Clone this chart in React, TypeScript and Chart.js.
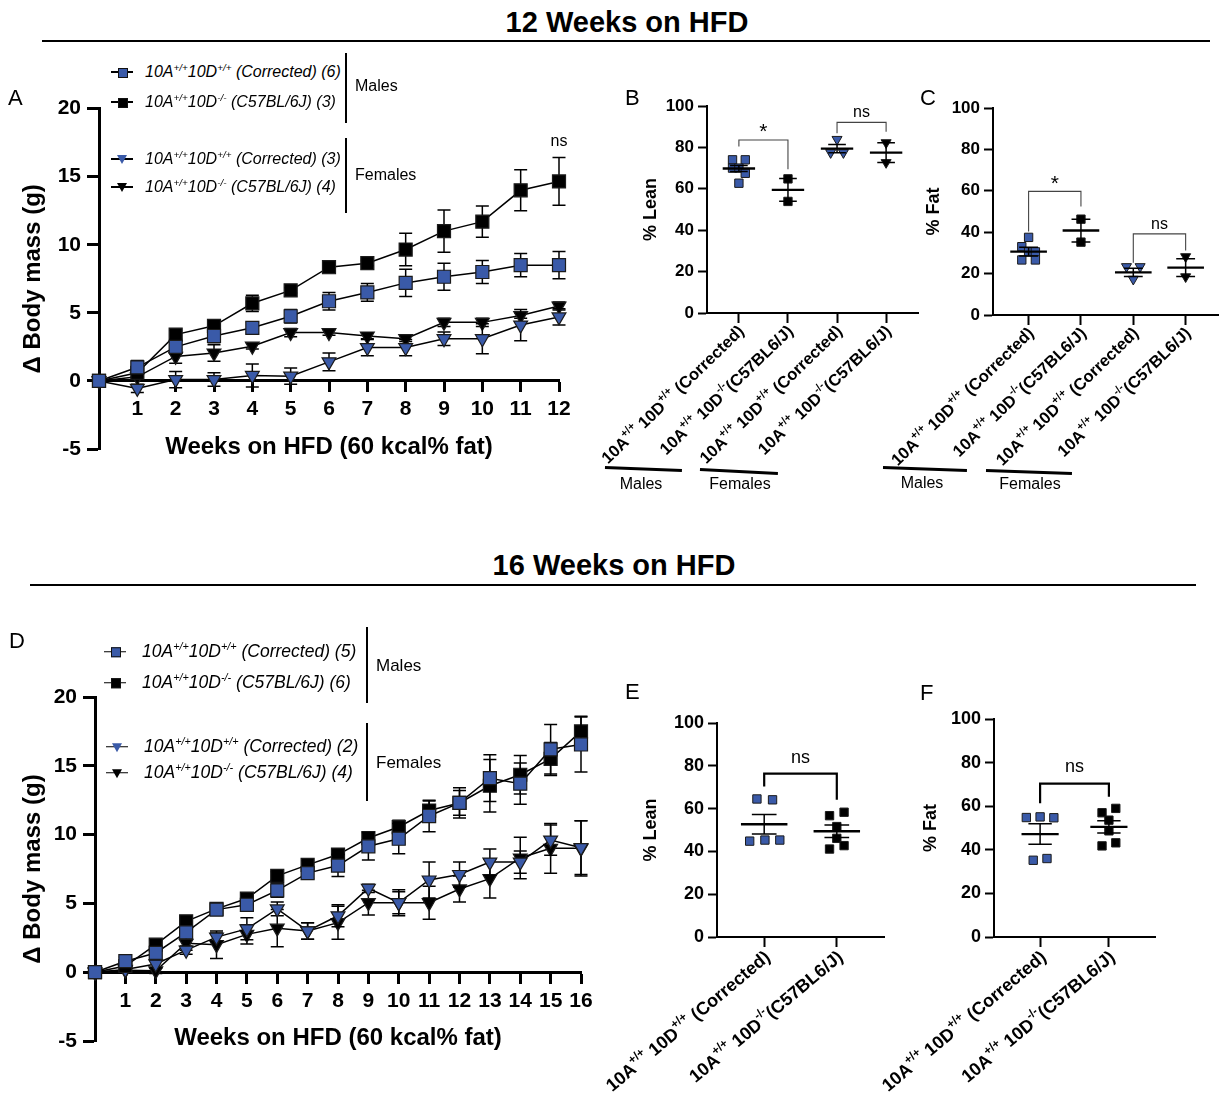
import React, { useEffect, useRef } from 'react';
import { Chart, registerables } from 'chart.js';

Chart.register(...registerables);

const FONT = "'Liberation Sans', Arial, Helvetica, sans-serif";
Chart.defaults.font.family = FONT;
Chart.defaults.color = '#000';

const BLUE = '#3a5aa8';
const EDGE = '#1b1b1b';

// ---------------- Panel A (12 weeks) ----------------
const weeksA = [0, 1, 2, 3, 4, 5, 6, 7, 8, 9, 10, 11, 12];
const aMaleCorr = [0, 1.0, 2.5, 3.3, 3.9, 4.75, 5.85, 6.5, 7.2, 7.65, 8.0, 8.5, 8.5];
const aMaleCorrErr = [0, 0.5, 0.5, 0.5, 0.4, 0.5, 0.65, 0.65, 1.0, 1.0, 0.85, 0.85, 1.0];
const aMaleC57 = [0, 0.6, 3.4, 4.05, 5.7, 6.65, 8.35, 8.65, 9.65, 11.0, 11.7, 14.0, 14.65];
const aMaleC57Err = [0, 0.3, 0.3, 0.4, 0.6, 0.2, 0.2, 0.2, 1.2, 1.55, 1.15, 1.5, 1.75];
const aFemCorr = [0, -0.55, 0.1, 0.1, 0.4, 0.35, 1.4, 2.45, 2.45, 3.1, 3.1, 4.1, 4.7];
const aFemCorrErr = [0, 0.3, 0.6, 0.5, 0.85, 0.6, 0.65, 0.6, 0.6, 0.5, 1.1, 1.15, 0.6];
const aFemC57 = [0, 0.3, 1.8, 2.05, 2.55, 3.55, 3.55, 3.3, 3.1, 4.3, 4.3, 4.8, 5.5];
const aFemC57Err = [0, 0.3, 0.5, 0.6, 0.2, 0.3, 0.2, 0.2, 0.2, 0.3, 0.3, 0.2, 0.3];
const aNs = { x: 12, y: 17.6, text: 'ns' };

// ---------------- Panel D (16 weeks) ----------------
const weeksD = [0, 1, 2, 3, 4, 5, 6, 7, 8, 9, 10, 11, 12, 13, 14, 15, 16];
const dMaleCorr = [0, 0.8, 1.4, 2.9, 4.55, 4.9, 5.95, 7.2, 7.75, 9.15, 9.7, 11.35, 12.3, 14.1, 13.7, 16.2, 16.55];
const dMaleCorrErr = [0, 0.3, 0.5, 0.4, 0.3, 0.3, 0.5, 0.4, 0.8, 1.0, 1.1, 1.15, 0.9, 1.7, 1.5, 1.8, 2.0];
const dMaleC57 = [0, 0.45, 2.0, 3.7, 4.6, 5.35, 7.0, 7.8, 8.55, 9.75, 10.55, 11.75, 12.3, 13.55, 14.35, 15.5, 17.5];
const dMaleC57Err = [0, 0.2, 0.3, 0.3, 0.2, 0.3, 0.3, 0.3, 0.4, 0.4, 0.5, 0.7, 1.1, 1.9, 1.4, 1.2, 1.1];
const dFemCorr = [0, 0.2, 0.6, 1.6, 2.55, 3.15, 4.6, 3.0, 4.1, 6.1, 5.05, 6.7, 7.1, 8.0, 8.0, 9.6, 9.05];
const dFemCorrErr = [0, 0.2, 0.3, 0.3, 0.3, 0.8, 0.5, 0.6, 0.8, 0.3, 0.8, 1.3, 0.9, 0.95, 0.8, 1.1, 1.95];
const dFemC57 = [0, 0.15, 0.1, 2.1, 2.0, 2.75, 3.2, 3.0, 3.6, 5.05, 5.05, 5.05, 6.05, 6.8, 8.3, 9.0, 9.0];
const dFemC57Err = [0, 0.1, 0.2, 0.5, 1.0, 0.7, 1.35, 0.6, 1.2, 0.9, 0.95, 1.2, 0.95, 1.4, 1.5, 1.8, 2.0];

// ---------------- Category labels ('^' toggles superscript) ----------------
const labels4 = [
  '10A^+/+^ 10D^+/+^ (Corrected)',
  '10A^+/+^ 10D^-/-^(C57BL6/J)',
  '10A^+/+^ 10D^+/+^ (Corrected)',
  '10A^+/+^ 10D^-/-^(C57BL6/J)',
];
const labels2 = ['10A^+/+^ 10D^+/+^ (Corrected)', '10A^+/+^ 10D^-/-^(C57BL6/J)'];

// ---------------- Panel B (% Lean, 12 weeks) ----------------
const bVals = [[74, 74, 70, 70, 67.5, 62.7], [64.8, 53.9], [83.9, 77.5, 77.5], [82.3, 72.7]];
const bJit = [[-0.13, 0.13, -0.13, 0, 0.13, 0], [0, 0], [0, -0.13, 0.13], [0, 0]];
const bMean = [69.8, 59.5, 79.4, 77.5];
const bSem = [1.5, 5.5, 2.0, 4.8];
const bBrackets = [
  { a: 0, b: 1, top: 83.6, la: 80.4, lb: 69.5, text: '*', ty: 87.2 },
  { a: 2, b: 3, top: 92.1, la: 86.8, lb: 87.6, text: 'ns', ty: 96.8 },
];

// ---------------- Panel C (% Fat, 12 weeks) ----------------
const cVals = [[37.5, 33, 30.5, 30.5, 26.6, 26.6], [46.3, 35.2], [23.4, 23.4, 17.3], [28.2, 18.5]];
const cJit = [[0, -0.13, 0, 0.13, -0.13, 0.13], [0, 0], [-0.13, 0.13, 0], [0, 0]];
const cMean = [30.6, 40.8, 20.6, 22.9];
const cSem = [2.1, 5.5, 1.95, 4.3];
const cBrackets = [
  { a: 0, b: 1, top: 59.7, la: 40.3, lb: 52.4, text: '*', ty: 63.2 },
  { a: 2, b: 3, top: 39.2, la: 25.3, lb: 31.1, text: 'ns', ty: 43.9 },
];

// ---------------- Panel E (% Lean, 16 weeks) ----------------
const eVals = [[64.5, 64.1, 44.8, 45.3, 45.3], [56.7, 58.3, 51.6, 46.1, 41.1, 42.7]];
const eJit = [[-0.1, 0.115, -0.2, 0.01, 0.215], [-0.1, 0.1, 0, 0, -0.1, 0.1]];
const eMean = [52.7, 49.4];
const eSem = [4.6, 2.9];
const eBrackets = [{ a: 0, b: 1, top: 76.3, la: 70.3, lb: 64.1, text: 'ns', ty: 83.6 }];

// ---------------- Panel F (% Fat, 16 weeks) ----------------
const fVals = [[54.8, 55.1, 54.7, 35.2, 36.0], [57.0, 59.0, 53.6, 48.7, 41.8, 43.2]];
const fJit = [[-0.2, 0, 0.2, -0.1, 0.1], [-0.1, 0.1, 0, 0, -0.1, 0.1]];
const fMean = [47.2, 50.5];
const fSem = [4.7, 2.8];
const fBrackets = [{ a: 0, b: 1, top: 70.4, la: 61.3, lb: 64.3, text: 'ns', ty: 78.1 }];

// ---------------- helpers ----------------
function drawRich(ctx: CanvasRenderingContext2D, text: string, x: number, y: number, angleDeg: number, size: number) {
  const segs = text.split('^').map((t, i) => ({ t, sup: i % 2 === 1 }));
  const base = `bold ${size}px ${FONT}`;
  const supF = `bold ${Math.round(size * 0.64)}px ${FONT}`;
  let total = 0;
  const widths = segs.map((sg) => {
    ctx.font = sg.sup ? supF : base;
    const w = ctx.measureText(sg.t).width;
    total += w;
    return w;
  });
  ctx.save();
  ctx.translate(x, y);
  ctx.rotate((-angleDeg * Math.PI) / 180);
  ctx.textBaseline = 'middle';
  ctx.textAlign = 'left';
  ctx.fillStyle = '#000';
  let cx = -total;
  segs.forEach((sg, i) => {
    ctx.font = sg.sup ? supF : base;
    ctx.fillText(sg.t, cx, sg.sup ? -size * 0.38 : 0);
    cx += widths[i];
  });
  ctx.restore();
}

type Series = { data: number[]; err: number[]; color: string; shape: 'rect' | 'triangle' };

function makeLineChart(weeks: number[], series: Series[], xMax: number, pad: any, yWidth: number, ns: any) {
  const errPlugin = {
    id: 'errbars',
    beforeDatasetDraw(chart: any, args: any) {
      const s = series[args.index];
      const ctx = chart.ctx;
      const xs = chart.scales.x;
      const ys = chart.scales.y;
      ctx.save();
      ctx.strokeStyle = '#000';
      ctx.lineWidth = 1.5;
      weeks.forEach((w, i) => {
        const e = s.err[i];
        if (!e) return;
        const px = xs.getPixelForValue(w);
        const y1 = ys.getPixelForValue(s.data[i] + e);
        const y2 = ys.getPixelForValue(s.data[i] - e);
        ctx.beginPath();
        ctx.moveTo(px, y1);
        ctx.lineTo(px, y2);
        ctx.moveTo(px - 6.5, y1);
        ctx.lineTo(px + 6.5, y1);
        ctx.moveTo(px - 6.5, y2);
        ctx.lineTo(px + 6.5, y2);
        ctx.stroke();
      });
      ctx.restore();
    },
    afterDraw(chart: any) {
      if (!ns) return;
      const ctx = chart.ctx;
      ctx.save();
      ctx.font = `16px ${FONT}`;
      ctx.fillStyle = '#000';
      ctx.textAlign = 'center';
      ctx.textBaseline = 'middle';
      ctx.fillText(ns.text, chart.scales.x.getPixelForValue(ns.x), chart.scales.y.getPixelForValue(ns.y));
      ctx.restore();
    },
  };
  return {
    type: 'line',
    data: {
      datasets: series.map((s) => ({
        data: weeks.map((w, i) => ({ x: w, y: s.data[i] })),
        borderColor: '#000',
        borderWidth: 1.5,
        pointStyle: s.shape,
        pointRotation: s.shape === 'triangle' ? 180 : 0,
        pointRadius: s.shape === 'rect' ? 9.2 : 8,
        pointBackgroundColor: s.color,
        pointBorderColor: EDGE,
        pointBorderWidth: 1.2,
        clip: false,
        tension: 0,
      })),
    },
    options: {
      responsive: false,
      animation: false,
      events: [],
      layout: { padding: pad },
      plugins: { legend: { display: false }, tooltip: { enabled: false } },
      scales: {
        x: {
          type: 'linear',
          position: { y: 0 },
          min: 0,
          max: xMax,
          afterBuildTicks: (s: any) => {
            s.ticks = weeks.map((v) => ({ value: v }));
          },
          ticks: {
            callback: (v: any) => (v === 0 ? '' : String(v)),
            font: { size: 21, weight: 'bold' },
            color: '#000',
            padding: 6,
            maxRotation: 0,
            autoSkip: false,
          },
          grid: { drawOnChartArea: false, drawTicks: true, tickLength: 10, tickWidth: 3, tickColor: '#000' },
          border: { display: true, width: 3, color: '#000' },
          title: {
            display: true,
            text: 'Weeks on HFD (60 kcal% fat)',
            font: { size: 24, weight: 'bold' },
            color: '#000',
            padding: { top: 5, bottom: 0 },
          },
        },
        y: {
          min: -5,
          max: 20,
          afterFit: (s: any) => {
            s.width = yWidth;
          },
          ticks: { stepSize: 5, font: { size: 21, weight: 'bold' }, color: '#000', padding: 6 },
          grid: { drawOnChartArea: false, drawTicks: true, tickLength: 12, tickWidth: 3, tickColor: '#000' },
          border: { display: true, width: 3, color: '#000' },
          title: {
            display: true,
            text: '\u0394 Body mass (g)',
            font: { size: 24, weight: 'bold' },
            color: '#000',
            padding: { top: 19, bottom: 0 },
          },
        },
      },
    },
    plugins: [errPlugin],
  };
}

type DotOpts = {
  vals: number[][];
  jit: number[][];
  mean: number[];
  sem: number[];
  colors: string[];
  shapes: ('rect' | 'triangle')[];
  labels: string[];
  yTitle: string;
  xMin: number;
  xMax: number;
  pad: any;
  yWidth: number;
  xHeight: number;
  yTitlePad: number;
  meanHalf: number;
  capHalf: number;
  brackets: any[];
  bracketColor: string;
  bracketWidth: number;
  sigSize: number;
  starSize: number;
  labelAngle: number;
  labelSize: number;
  labelDx: number;
  labelDy: number;
  tickSize: number;
  titleSize: number;
};

function makeDotChart(o: DotOpts) {
  const statPlugin = {
    id: 'dotstats',
    afterDatasetsDraw(chart: any) {
      const ctx = chart.ctx;
      const xs = chart.scales.x;
      const ys = chart.scales.y;
      ctx.save();
      ctx.strokeStyle = '#000';
      o.mean.forEach((m, g) => {
        const x0 = xs.getPixelForValue(g - o.meanHalf);
        const x1 = xs.getPixelForValue(g + o.meanHalf);
        const cx = xs.getPixelForValue(g);
        const c0 = xs.getPixelForValue(g - o.capHalf);
        const c1 = xs.getPixelForValue(g + o.capHalf);
        const ym = ys.getPixelForValue(m);
        const yt = ys.getPixelForValue(m + o.sem[g]);
        const yb = ys.getPixelForValue(m - o.sem[g]);
        ctx.lineWidth = 2.4;
        ctx.beginPath();
        ctx.moveTo(x0, ym);
        ctx.lineTo(x1, ym);
        ctx.stroke();
        ctx.lineWidth = 1.5;
        ctx.beginPath();
        ctx.moveTo(cx, yt);
        ctx.lineTo(cx, yb);
        ctx.moveTo(c0, yt);
        ctx.lineTo(c1, yt);
        ctx.moveTo(c0, yb);
        ctx.lineTo(c1, yb);
        ctx.stroke();
      });
      ctx.strokeStyle = o.bracketColor;
      ctx.lineWidth = o.bracketWidth;
      o.brackets.forEach((b) => {
        const xa = xs.getPixelForValue(b.a);
        const xb = xs.getPixelForValue(b.b);
        ctx.beginPath();
        ctx.moveTo(xa, ys.getPixelForValue(b.la));
        ctx.lineTo(xa, ys.getPixelForValue(b.top));
        ctx.lineTo(xb, ys.getPixelForValue(b.top));
        ctx.lineTo(xb, ys.getPixelForValue(b.lb));
        ctx.stroke();
        ctx.fillStyle = '#000';
        ctx.font = `${b.text === '*' ? o.starSize : o.sigSize}px ${FONT}`;
        ctx.textAlign = 'center';
        ctx.textBaseline = 'middle';
        ctx.fillText(b.text, (xa + xb) / 2, ys.getPixelForValue(b.ty));
      });
      ctx.restore();
    },
    afterDraw(chart: any) {
      const ctx = chart.ctx;
      const xs = chart.scales.x;
      const bottom = chart.chartArea.bottom;
      o.labels.forEach((lab, i) => {
        drawRich(ctx, lab, xs.getPixelForValue(i) + o.labelDx, bottom + o.labelDy, o.labelAngle, o.labelSize);
      });
    },
  };
  return {
    type: 'scatter',
    data: {
      datasets: o.vals.map((vals, g) => ({
        data: vals.map((v, i) => ({ x: g + o.jit[g][i], y: v })),
        pointStyle: o.shapes[g],
        pointRotation: o.shapes[g] === 'triangle' ? 180 : 0,
        pointRadius: o.shapes[g] === 'rect' ? 5.9 : 5.8,
        pointBackgroundColor: o.colors[g],
        pointBorderColor: EDGE,
        pointBorderWidth: 1,
        clip: false,
      })),
    },
    options: {
      responsive: false,
      animation: false,
      events: [],
      layout: { padding: o.pad },
      plugins: { legend: { display: false }, tooltip: { enabled: false } },
      scales: {
        x: {
          type: 'linear',
          min: o.xMin,
          max: o.xMax,
          afterBuildTicks: (s: any) => {
            s.ticks = o.labels.map((_, i) => ({ value: i }));
          },
          afterFit: (s: any) => {
            s.height = o.xHeight;
          },
          ticks: { display: false },
          grid: { drawOnChartArea: false, drawTicks: true, tickLength: 10, tickWidth: 2, tickColor: '#000' },
          border: { display: true, width: 2, color: '#000' },
        },
        y: {
          min: 0,
          max: 100,
          afterFit: (s: any) => {
            s.width = o.yWidth;
          },
          ticks: { stepSize: 20, font: { size: o.tickSize, weight: 'bold' }, color: '#000', padding: 4 },
          grid: { drawOnChartArea: false, drawTicks: true, tickLength: 9, tickWidth: 2, tickColor: '#000' },
          border: { display: true, width: 2, color: '#000' },
          title: {
            display: true,
            text: o.yTitle,
            font: { size: o.titleSize, weight: 'bold' },
            color: '#000',
            padding: { top: o.yTitlePad, bottom: 0 },
          },
        },
      },
    },
    plugins: [statPlugin],
  };
}

function ChartBox({ left, top, width, height, make }: any) {
  const ref = useRef<HTMLCanvasElement>(null);
  useEffect(() => {
    const chart = new Chart(ref.current as HTMLCanvasElement, make() as any);
    return () => chart.destroy();
  }, []);
  return (
    <div style={{ position: 'absolute', left, top, width, height }}>
      <canvas ref={ref} width={width} height={height} style={{ width, height, display: 'block' }} />
    </div>
  );
}

const supStyle: any = { fontSize: '0.62em', verticalAlign: 'super', lineHeight: 0 };

function Marker({ shape, color, gap }: any) {
  return (
    <span style={{ position: 'relative', display: 'inline-block', width: 22, height: 12, marginRight: gap }}>
      <span style={{ position: 'absolute', left: 0, top: 5, width: 22, height: 1.5, background: '#000' }} />
      {shape === 'sq' ? (
        <span style={{ position: 'absolute', left: 6.5, top: 1.5, width: 8, height: 8, background: color, border: '0.8px solid #111' }} />
      ) : (
        <span
          style={{
            position: 'absolute',
            left: 6,
            top: 2,
            width: 0,
            height: 0,
            borderLeft: '5px solid transparent',
            borderRight: '5px solid transparent',
            borderTop: `9px solid ${color}`,
          }}
        />
      )}
    </span>
  );
}

function LegendRow({ x, y, shape, color, gt, tail, size, gap = 10 }: any) {
  return (
    <div
      style={{
        position: 'absolute',
        left: x,
        top: y,
        transform: 'translateY(-50%)',
        whiteSpace: 'nowrap',
        fontFamily: FONT,
        fontSize: size,
        fontStyle: 'italic',
        lineHeight: 1,
        display: 'flex',
        alignItems: 'center',
      }}
    >
      <Marker shape={shape} color={color} gap={gap} />
      <span>
        10A<span style={supStyle}>+/+</span>10D<span style={supStyle}>{gt}</span>
        {tail}
      </span>
    </div>
  );
}

function Txt({ x, y, children, size = 16, weight = 'normal', center = false }: any) {
  return (
    <div
      style={{
        position: 'absolute',
        left: x,
        top: y,
        transform: center ? 'translate(-50%,-50%)' : 'translateY(-50%)',
        whiteSpace: 'nowrap',
        fontFamily: FONT,
        fontSize: size,
        fontWeight: weight,
        lineHeight: 1,
      }}
    >
      {children}
    </div>
  );
}

function Bar({ x, y1, y2 }: any) {
  return <div style={{ position: 'absolute', left: x - 1.25, top: y1, width: 2.5, height: y2 - y1, background: '#000' }} />;
}

function Under({ x1, y1, x2, y2 }: any) {
  const len = Math.hypot(x2 - x1, y2 - y1);
  const ang = (Math.atan2(y2 - y1, x2 - x1) * 180) / Math.PI;
  return (
    <div
      style={{
        position: 'absolute',
        left: x1,
        top: y1 - 1.25,
        width: len,
        height: 2.5,
        background: '#000',
        transform: `rotate(${ang}deg)`,
        transformOrigin: '0 50%',
      }}
    />
  );
}

const seriesA: Series[] = [
  { data: aMaleCorr, err: aMaleCorrErr, color: BLUE, shape: 'rect' },
  { data: aMaleC57, err: aMaleC57Err, color: '#000', shape: 'rect' },
  { data: aFemCorr, err: aFemCorrErr, color: BLUE, shape: 'triangle' },
  { data: aFemC57, err: aFemC57Err, color: '#000', shape: 'triangle' },
];
const seriesD: Series[] = [
  { data: dMaleCorr, err: dMaleCorrErr, color: BLUE, shape: 'rect' },
  { data: dMaleC57, err: dMaleC57Err, color: '#000', shape: 'rect' },
  { data: dFemCorr, err: dFemCorrErr, color: BLUE, shape: 'triangle' },
  { data: dFemC57, err: dFemC57Err, color: '#000', shape: 'triangle' },
];

const dot4Common = {
  colors: [BLUE, '#000', BLUE, '#000'],
  shapes: ['rect', 'rect', 'triangle', 'triangle'] as any,
  labels: labels4,
  xHeight: 187,
  meanHalf: 0.33,
  capHalf: 0.18,
  bracketColor: '#444',
  bracketWidth: 1.1,
  sigSize: 16,
  starSize: 21,
  labelAngle: 44,
  labelSize: 16.5,
  labelDx: 3,
  labelDy: 16,
  tickSize: 17,
  titleSize: 18,
};
const dot2Common = {
  colors: [BLUE, '#000'],
  shapes: ['rect', 'rect'] as any,
  labels: labels2,
  xHeight: 158,
  capHalf: 0.17,
  bracketColor: '#000',
  bracketWidth: 2.2,
  sigSize: 18,
  starSize: 22,
  labelAngle: 40,
  labelSize: 18,
  labelDx: 4,
  labelDy: 18,
  tickSize: 18,
  titleSize: 18,
};

export default function App() {
  return (
    <div style={{ position: 'absolute', left: 0, top: 0, width: 1225, height: 1095, background: '#fff', overflow: 'hidden', fontFamily: FONT }}>
      <Txt x={627} y={22} size={29} weight="bold" center>
        12 Weeks on HFD
      </Txt>
      <div style={{ position: 'absolute', left: 42, top: 40, width: 1168, height: 2, background: '#000' }} />
      <Txt x={614} y={565} size={29} weight="bold" center>
        16 Weeks on HFD
      </Txt>
      <div style={{ position: 'absolute', left: 30, top: 584, width: 1166, height: 2, background: '#000' }} />

      <ChartBox left={0} top={90} width={600} height={380} make={() => makeLineChart(weeksA, seriesA, 12, { left: 0, top: 18, right: 41, bottom: 21 }, 99, aNs)} />
      <ChartBox left={0} top={610} width={620} height={460} make={() => makeLineChart(weeksD, seriesD, 16, { left: 0, top: 87, right: 39, bottom: 29 }, 95, null)} />

      <ChartBox
        left={580}
        top={80}
        width={350}
        height={420}
        make={() =>
          makeDotChart({
            ...dot4Common,
            vals: bVals,
            jit: bJit,
            mean: bMean,
            sem: bSem,
            yTitle: '% Lean',
            xMin: -0.65,
            xMax: 3.65,
            pad: { left: 0, top: 26, right: 12, bottom: 0 },
            yWidth: 127,
            yTitlePad: 60,
            brackets: bBrackets,
          })
        }
      />
      <ChartBox
        left={860}
        top={80}
        width={365}
        height={420}
        make={() =>
          makeDotChart({
            ...dot4Common,
            meanHalf: 0.35,
            vals: cVals,
            jit: cJit,
            mean: cMean,
            sem: cSem,
            yTitle: '% Fat',
            xMin: -0.68,
            xMax: 3.62,
            pad: { left: 0, top: 28, right: 3, bottom: 0 },
            yWidth: 133,
            yTitlePad: 63,
            xHeight: 185,
            brackets: cBrackets,
          })
        }
      />
      <ChartBox
        left={580}
        top={670}
        width={350}
        height={425}
        make={() =>
          makeDotChart({
            ...dot2Common,
            meanHalf: 0.32,
            vals: eVals,
            jit: eJit,
            mean: eMean,
            sem: eSem,
            yTitle: '% Lean',
            xMin: -0.65,
            xMax: 1.65,
            pad: { left: 0, top: 53, right: 46, bottom: 0 },
            yWidth: 137,
            yTitlePad: 60,
            brackets: eBrackets,
          })
        }
      />
      <ChartBox
        left={860}
        top={670}
        width={365}
        height={425}
        make={() =>
          makeDotChart({
            ...dot2Common,
            meanHalf: 0.27,
            vals: fVals,
            jit: fJit,
            mean: fMean,
            sem: fSem,
            yTitle: '% Fat',
            xMin: -0.67,
            xMax: 1.67,
            pad: { left: 0, top: 49, right: 70, bottom: 0 },
            yWidth: 134,
            yTitlePad: 60,
            brackets: fBrackets,
          })
        }
      />

      {/* panel letters */}
      <Txt x={8} y={98} size={22}>A</Txt>
      <Txt x={625} y={98} size={22}>B</Txt>
      <Txt x={920} y={98} size={22}>C</Txt>
      <Txt x={9} y={641} size={22}>D</Txt>
      <Txt x={625} y={692} size={22}>E</Txt>
      <Txt x={920} y={693} size={22}>F</Txt>

      {/* Panel A legend */}
      <LegendRow x={111} y={72} shape="sq" color={BLUE} gt="+/+" tail=" (Corrected) (6)" size={16} gap={12} />
      <LegendRow x={111} y={102} shape="sq" color="#000" gt="-/-" tail=" (C57BL/6J) (3)" size={16} gap={12} />
      <LegendRow x={111} y={159} shape="tri" color={BLUE} gt="+/+" tail=" (Corrected) (3)" size={16} gap={12} />
      <LegendRow x={111} y={187} shape="tri" color="#000" gt="-/-" tail=" (C57BL/6J) (4)" size={16} gap={12} />
      <Bar x={346} y1={53} y2={123} />
      <Bar x={346} y1={138} y2={213} />
      <Txt x={355} y={86} size={16}>Males</Txt>
      <Txt x={355} y={175} size={16}>Females</Txt>

      {/* Panel D legend */}
      <LegendRow x={104} y={652} shape="sq" color={BLUE} gt="+/+" tail=" (Corrected) (5)" size={17.5} gap={16} />
      <LegendRow x={104} y={683} shape="sq" color="#000" gt="-/-" tail=" (C57BL/6J) (6)" size={17.5} gap={16} />
      <LegendRow x={106} y={747} shape="tri" color={BLUE} gt="+/+" tail=" (Corrected) (2)" size={17.5} gap={16} />
      <LegendRow x={106} y={773} shape="tri" color="#000" gt="-/-" tail=" (C57BL/6J) (4)" size={17.5} gap={16} />
      <Bar x={367} y1={627} y2={703} />
      <Bar x={367} y1={723} y2={801} />
      <Txt x={376} y={665} size={17}>Males</Txt>
      <Txt x={376} y={762} size={17}>Females</Txt>

      {/* group annotations B */}
      <Under x1={605} y1={467} x2={682} y2={470} />
      <Under x1={700} y1={469} x2={778} y2={473} />
      <Txt x={641} y={484} size={16} center>Males</Txt>
      <Txt x={740} y={484} size={16} center>Females</Txt>
      {/* group annotations C */}
      <Under x1={883} y1={467} x2={967} y2={470} />
      <Under x1={986} y1={470} x2={1072} y2={473} />
      <Txt x={922} y={483} size={16} center>Males</Txt>
      <Txt x={1030} y={484} size={16} center>Females</Txt>
    </div>
  );
}
